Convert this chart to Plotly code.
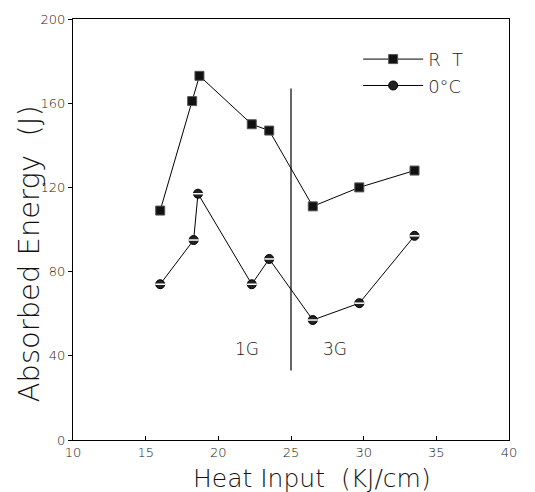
import plotly.graph_objects as go

rt_x = [16.0, 18.2, 18.7, 22.3, 23.5, 26.5, 29.7, 33.5]
rt_y = [109, 161, 173, 150, 147, 111, 120, 128]
c0_x = [16.0, 18.3, 18.6, 22.3, 23.5, 26.5, 29.7, 33.5]
c0_y = [74, 95, 117, 74, 86, 57, 65, 97]
divider_x = 25
divider_y = [33, 167]
zone_labels = ["1G", "3G"]
zone_x = [22.0, 28.0]
zone_y = 43
x_title = "Heat Input  (KJ/cm)"
y_title = "Absorbed Energy  (J)"

tfont = "DejaVu Sans"
fig = go.Figure()
fig.add_trace(go.Scatter(x=rt_x, y=rt_y, mode="lines+markers", name="R  T",
                         line=dict(color="black", width=1),
                         marker=dict(symbol="square", size=9, color="#111",
                                     line=dict(color="#555", width=1))))
fig.add_trace(go.Scatter(x=c0_x, y=c0_y, mode="lines+markers", name="0°C",
                         line=dict(color="black", width=1),
                         marker=dict(symbol="circle", size=9, color="#222",
                                     line=dict(color="black", width=1))))
fig.add_trace(go.Scatter(x=c0_x, y=c0_y, mode="markers", showlegend=False,
                         hoverinfo="skip",
                         marker=dict(symbol="line-ew", size=7,
                                     line=dict(color="white", width=1.5))))
fig.add_trace(go.Scatter(x=[divider_x, divider_x], y=divider_y, mode="lines",
                         showlegend=False, line=dict(color="black", width=1.2)))
for t, x in zip(zone_labels, zone_x):
    fig.add_annotation(x=x, y=zone_y, text=t, showarrow=False,
                       font=dict(family=tfont, size=17, color="#111", weight=300))

fig.add_annotation(xref="paper", yref="paper", x=0.548, y=-0.092, text=x_title,
                   showarrow=False, xanchor="center", yanchor="middle",
                   font=dict(family=tfont, size=25, color="#111", weight=300))
fig.add_annotation(xref="paper", yref="paper", x=-0.099, y=0.443, text=y_title,
                   textangle=-90, showarrow=False, xanchor="center", yanchor="middle",
                   font=dict(family=tfont, size=29, color="#111", weight=300))

axis_common = dict(showgrid=False, zeroline=False, showline=True, linecolor="black",
                   linewidth=1, mirror=True, ticklen=4, tickcolor="black",
                   tickfont=dict(family=tfont, size=13, color="#222", weight=300))
fig.update_xaxes(range=[10, 40], tickvals=[10, 15, 20, 25, 30, 35, 40],
                 ticks="inside", **axis_common)
fig.update_yaxes(range=[0, 200], tickvals=[0, 40, 80, 120, 160, 200],
                 ticks="outside", **axis_common)
fig.update_layout(width=535, height=492, margin=dict(l=73, r=26, t=16, b=52),
                  paper_bgcolor="white", plot_bgcolor="white",
                  legend=dict(x=0.654, y=0.948, xanchor="left", yanchor="top",
                              itemwidth=60, tracegroupgap=0,
                              bgcolor="rgba(0,0,0,0)",
                              font=dict(family=tfont, size=18, color="#222", weight=300)))
fig.write_html("out.html")
